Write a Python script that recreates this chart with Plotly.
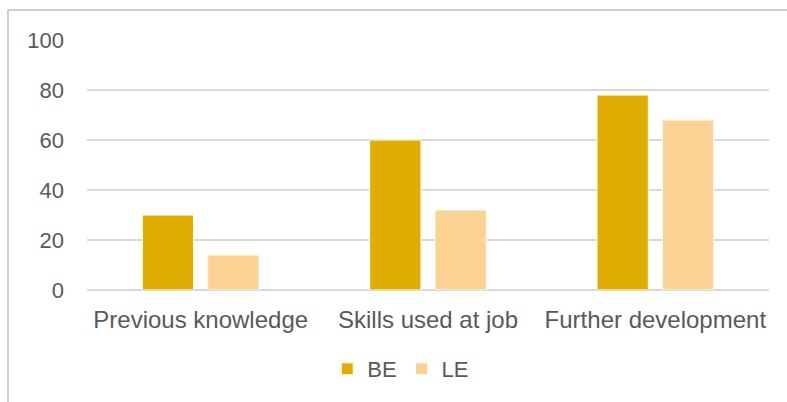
import plotly.graph_objects as go

categories = ["Previous knowledge", "Skills used at job", "Further development"]
be_values = [30, 60, 78]
le_values = [14, 32, 68]
y_ticks = [0, 20, 40, 60, 80, 100]

fig = go.Figure()
fig.add_trace(go.Bar(name="BE", x=categories, y=be_values,
                     marker=dict(color="#E0AE03", line=dict(color="white", width=1))))
fig.add_trace(go.Bar(name="LE", x=categories, y=le_values,
                     marker=dict(color="#FBD292", line=dict(color="white", width=1))))

font = dict(family="Liberation Sans, Arial, sans-serif", size=22, color="#595959")
fig.update_layout(
    width=787, height=402,
    margin=dict(l=87, r=18, t=40, b=112),
    paper_bgcolor="white", plot_bgcolor="white",
    font=font,
    barmode="group", bargap=0.425, bargroupgap=0.214,
    showlegend=True,
    legend=dict(orientation="h", x=0.46, xanchor="center", y=-0.316, yanchor="middle",
                font=font, itemwidth=30, traceorder="normal"),
    xaxis=dict(showgrid=False, showline=False, ticks="", ticklabelstandoff=13,
               tickfont=dict(family="Liberation Sans, Arial, sans-serif", size=24, color="#595959")),
    yaxis=dict(range=[0, 100], tickvals=y_ticks, showgrid=True, gridcolor="#D9D9D9",
               gridwidth=1.5, zeroline=True, zerolinecolor="#D9D9D9", zerolinewidth=1.5,
               showline=False, ticks="", ticklabelstandoff=22),
    shapes=[dict(type="rect", xref="paper", yref="paper",
                 x0=(8 - 87) / 682, x1=(800 - 87) / 682,
                 y0=-(420 - 290) / 250, y1=1 + (290 - 10 - 250) / 250,
                 line=dict(color="#BFBFBF", width=1.5), layer="below")],
)
fig.write_html("out.html")
